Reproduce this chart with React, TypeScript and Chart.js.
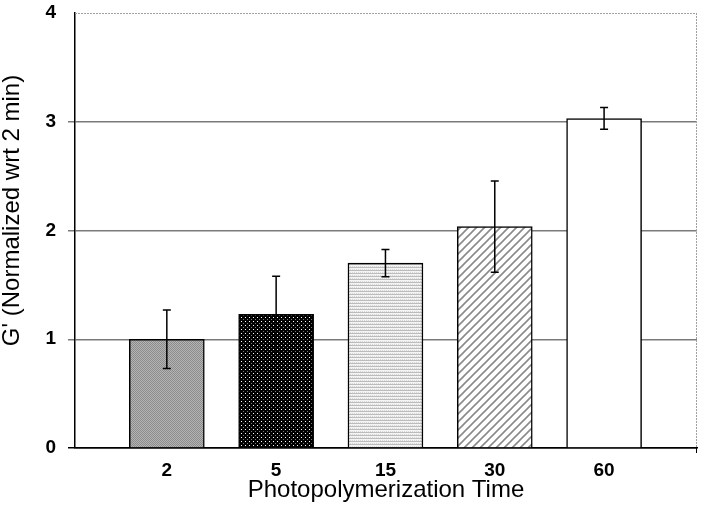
import React, { useEffect, useRef } from "react";
import { Chart, registerables } from "chart.js";

Chart.register(...registerables);

const categories = ["2", "5", "15", "30", "60"];
const values = [1.0, 1.23, 1.70, 2.035, 3.03];
const errors = [0.27, 0.35, 0.125, 0.42, 0.1];
const yTicks = [0, 1, 2, 3, 4];

function makePattern(kind: string): CanvasPattern | string {
  const c = document.createElement("canvas");
  const ctx = c.getContext("2d")!;
  if (kind === "stipple") {
    c.width = 2; c.height = 2;
    ctx.fillStyle = "#b4b4b4"; ctx.fillRect(0, 0, 2, 2);
    ctx.fillStyle = "#8c8c8c"; ctx.fillRect(0, 0, 1, 1); ctx.fillRect(1, 1, 1, 1);
  } else if (kind === "dots") {
    c.width = 4; c.height = 4;
    ctx.fillStyle = "#000"; ctx.fillRect(0, 0, 4, 4);
    ctx.fillStyle = "#fff"; ctx.fillRect(1, 1, 1, 1);
    ctx.fillStyle = "#777"; ctx.fillRect(3, 3, 1, 1);
  } else if (kind === "hlines") {
    c.width = 2; c.height = 3;
    ctx.fillStyle = "#f4f4f4"; ctx.fillRect(0, 0, 2, 3);
    ctx.fillStyle = "#bcbcbc"; ctx.fillRect(0, 0, 2, 1);
    ctx.fillStyle = "#d8d8d8"; ctx.fillRect(0, 2, 1, 1);
  } else if (kind === "diag") {
    c.width = 8; c.height = 8;
    ctx.fillStyle = "#fff"; ctx.fillRect(0, 0, 8, 8);
    ctx.strokeStyle = "#8a8a8a"; ctx.lineWidth = 1.6;
    ctx.beginPath();
    ctx.moveTo(-2, 10); ctx.lineTo(10, -2);
    ctx.moveTo(-6, 6); ctx.lineTo(6, -6);
    ctx.moveTo(2, 14); ctx.lineTo(14, 2);
    ctx.stroke();
  } else {
    return "#ffffff";
  }
  return ctx.createPattern(c, "repeat")!;
}

const errorBarPlugin = {
  id: "errorBars",
  afterDatasetsDraw(chart: any) {
    const { ctx, scales } = chart;
    const x = scales.x, y = scales.y;
    ctx.save();
    ctx.strokeStyle = "#000";
    ctx.lineWidth = 1.5;
    values.forEach((v, i) => {
      const px = x.getPixelForValue(i);
      const top = y.getPixelForValue(v + errors[i]);
      const bot = y.getPixelForValue(v - errors[i]);
      ctx.beginPath();
      ctx.moveTo(px, top); ctx.lineTo(px, bot);
      ctx.moveTo(px - 4, top); ctx.lineTo(px + 4, top);
      ctx.moveTo(px - 4, bot); ctx.lineTo(px + 4, bot);
      ctx.stroke();
    });
    ctx.restore();
  },
};

const framePlugin = {
  id: "frame",
  beforeDatasetsDraw(chart: any) {
    const { ctx, chartArea } = chart;
    ctx.save();
    ctx.strokeStyle = "#a0a0a0";
    ctx.lineWidth = 1;
    ctx.setLineDash([2, 1]);
    ctx.beginPath();
    ctx.moveTo(chartArea.left, chartArea.top + 0.5);
    ctx.lineTo(chartArea.right, chartArea.top + 0.5);
    ctx.moveTo(chartArea.right - 0.5, chartArea.top);
    ctx.lineTo(chartArea.right - 0.5, chartArea.bottom);
    ctx.stroke();
    ctx.setLineDash([]);
    ctx.strokeStyle = "#000";
    ctx.beginPath();
    ctx.moveTo(chartArea.right - 0.5, chartArea.bottom);
    ctx.lineTo(chartArea.right - 0.5, chartArea.bottom + 5);
    ctx.stroke();
    ctx.restore();
  },
};

export default function App() {
  const ref = useRef<HTMLCanvasElement>(null);
  useEffect(() => {
    const fills = [
      makePattern("stipple"),
      makePattern("dots"),
      makePattern("hlines"),
      makePattern("diag"),
      makePattern("white"),
    ];
    const chart = new Chart(ref.current!, {
      type: "bar",
      data: {
        datasets: [
          {
            data: values.map((v, i) => ({ x: i, y: v })) as any,
            backgroundColor: fills as any,
            borderColor: "#000",
            borderWidth: 1.5,
            barThickness: 75,
          },
        ],
      },
      options: {
        animation: false,
        responsive: false,
        devicePixelRatio: 1,
        layout: { padding: { top: 13, right: 7, left: 0, bottom: 0 } },
        plugins: { legend: { display: false }, tooltip: { enabled: false } },
        scales: {
          x: {
            type: "linear",
            offset: false,
            bounds: "ticks",
            min: -0.84,
            max: 4.85,
            afterBuildTicks: (s: any) => {
              s.ticks = categories.map((_, i) => ({ value: i }));
            },
            afterFit: (s: any) => {
              s.height = 61;
              s.paddingLeft = 0;
              s.paddingRight = 0;
            },
            grid: { display: false, drawTicks: false, tickLength: 0 },
            border: { display: true, color: "#000", width: 1.5 },
            ticks: {
              autoSkip: false,
              maxRotation: 0,
              padding: 11,
              color: "#000",
              font: { family: "Arial, 'Liberation Sans'", size: 19, weight: "bold" },
              callback: (v: any) => categories[v as number] ?? "",
            },
            title: {
              display: true,
              text: "Photopolymerization Time",
              color: "#000",
              font: { family: "Arial, 'Liberation Sans'", size: 24, lineHeight: 1 },
              padding: { top: 0, bottom: 7 },
            },
          },
          y: {
            min: 0,
            max: 4,
            afterBuildTicks: (s: any) => {
              s.ticks = yTicks.map((v) => ({ value: v }));
            },
            afterFit: (s: any) => {
              s.width = 75;
              s.paddingTop = 0;
              s.paddingBottom = 0;
            },
            grid: {
              color: (c: any) => (c.tick && c.tick.value === 0 ? "#000" : c.tick && c.tick.value === 4 ? "#a0a0a0" : "#7a7a7a"),
              lineWidth: (c: any) => (c.tick && c.tick.value === 4 ? 0 : 1.5),
              tickLength: 7,
              drawTicks: true,
            },
            border: { display: true, color: "#000", width: 1.5 },
            ticks: {
              padding: 12,
              color: "#000",
              font: { family: "Arial, 'Liberation Sans'", size: 19, weight: "bold" },
            },
            title: {
              display: true,
              text: "      G' (Normalized wrt 2 min)",
              color: "#000",
              font: { family: "Arial, 'Liberation Sans'", size: 24, lineHeight: 1 },
              padding: { top: 0, bottom: 0 },
            },
          },
        },
      },
      plugins: [framePlugin, errorBarPlugin],
    });
    return () => chart.destroy();
  }, []);
  return (
    <div style={{ position: "fixed", left: 0, top: 0, width: 704, height: 509, background: "#fff" }}>
      <canvas ref={ref} width={704} height={509} style={{ width: 704, height: 509, display: "block" }} />
    </div>
  );
}
